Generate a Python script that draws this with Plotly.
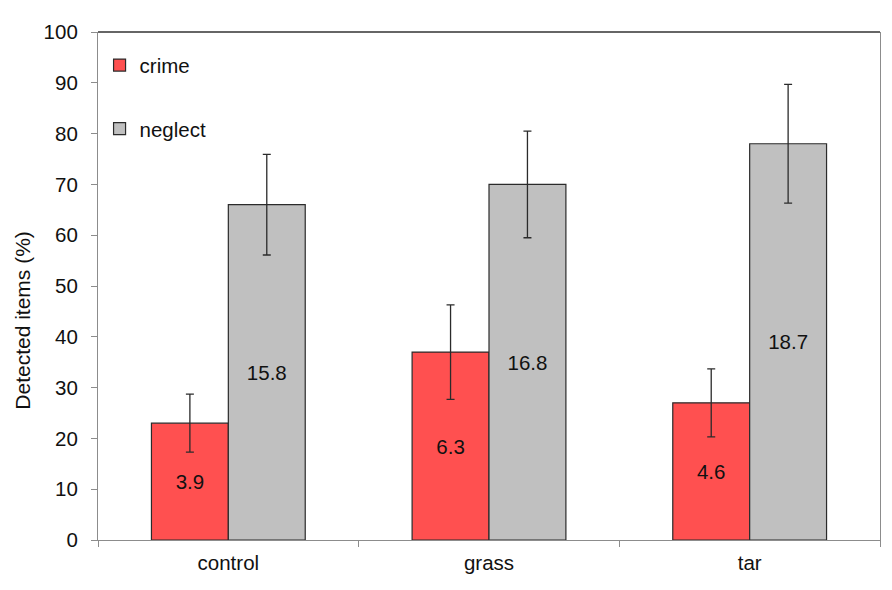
import plotly.graph_objects as go

categories = ["control", "grass", "tar"]
crime = [23.0, 37.0, 27.0]
crime_err = [5.7, 9.3, 6.7]
crime_labels = ["3.9", "6.3", "4.6"]
neglect = [66.0, 70.0, 78.0]
neglect_err = [9.9, 10.5, 11.7]
neglect_labels = ["15.8", "16.8", "18.7"]
y_ticks = [0, 10, 20, 30, 40, 50, 60, 70, 80, 90, 100]
y_title = "Detected items (%)"

FONT = "Liberation Sans, Arial, sans-serif"
FS = 20.5
err_style = dict(type="data", visible=True, color="#2b2b2b", thickness=1.3, width=4)

fig = go.Figure()
fig.add_trace(go.Bar(
    name="crime", x=categories, y=crime, legendgroup="a",
    error_y=dict(array=crime_err, **err_style),
    text=crime_labels, textposition="inside", insidetextanchor="middle",
    textfont=dict(family=FONT, size=FS, color="#111"),
    marker=dict(color="#FF5050", line=dict(color="#2b2b2b", width=1.2)),
))
fig.add_trace(go.Bar(
    name="neglect", x=categories, y=neglect, legendgroup="b",
    error_y=dict(array=neglect_err, **err_style),
    text=neglect_labels, textposition="inside", insidetextanchor="middle",
    textfont=dict(family=FONT, size=FS, color="#111"),
    marker=dict(color="#C0C0C0", line=dict(color="#2b2b2b", width=1.2)),
))

fig.update_layout(
    width=892, height=590,
    margin=dict(l=90, r=20, t=12, b=58),
    paper_bgcolor="white", plot_bgcolor="white",
    barmode="group", bargap=0.41, bargroupgap=0,
    font=dict(family=FONT, size=FS, color="#111"),
    uniformtext=dict(mode=False),
    legend=dict(
        x=0.002, y=0.974, xanchor="left", yanchor="top",
        bgcolor="rgba(0,0,0,0)", tracegroupgap=34,
        font=dict(family=FONT, size=FS, color="#111"),
        itemwidth=30,
    ),
    showlegend=True,
)
fig.update_xaxes(
    type="category", showline=True, linecolor="#8c8c8c", linewidth=1.2,
    ticks="outside", tickson="boundaries", ticklen=6, tickcolor="#8c8c8c",
    showgrid=False, tickfont=dict(family=FONT, size=FS, color="#111"),
    ticklabelstandoff=4, mirror=False,
)
fig.update_yaxes(
    range=[0, 100], tickvals=y_ticks, showline=True, linecolor="#8c8c8c",
    linewidth=1.2, mirror=True, ticks="outside", ticklen=6, tickcolor="#8c8c8c",
    showgrid=False, zeroline=False, ticklabelstandoff=9,
    tickfont=dict(family=FONT, size=FS, color="#111"),
)
fig.add_annotation(
    text=y_title, textangle=-90, xref="paper", yref="paper",
    x=-0.097, y=0.432, xanchor="center", yanchor="middle", showarrow=False,
    font=dict(family=FONT, size=21, color="#111"),
)
fig.add_shape(type="line", xref="paper", yref="paper", x0=0, x1=1, y0=1, y1=1,
              line=dict(color="#333333", width=1.5))

fig.write_html("out.html")
